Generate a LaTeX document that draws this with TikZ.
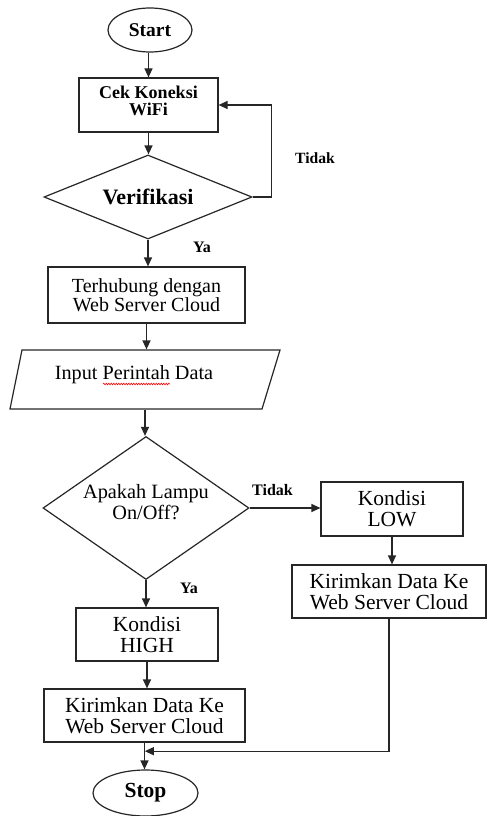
\documentclass[tikz,border=0pt]{standalone}
\usepackage{fontspec}
\setmainfont{Liberation Serif}
\newfontfamily\tnr{Liberation Serif}
\usetikzlibrary{shapes.geometric,arrows.meta,decorations.pathmorphing,calc}
\colorlet{ln}{black!85}
\begin{document}
\begin{tikzpicture}[x=1pt,y=-1pt,line width=1.2pt,
  box/.style={draw=ln, rectangle, fill=white, inner sep=0pt, align=center},
  term/.style={draw=ln, ellipse, fill=white, inner sep=0pt},
  dec/.style={draw=ln, diamond, fill=white, inner sep=0pt},
  txt/.style={align=center, inner sep=0pt},
  arr/.style={draw=ln, -{Triangle[length=9pt,width=8pt]}},
  fsz/.style 2 args={font=\tnr\fontsize{#1}{#2}\selectfont},
  fszb/.style 2 args={font=\tnr\fontsize{#1}{#2}\selectfont\bfseries},
  lbl/.style={inner sep=0pt}
]
\useasboundingbox (0,0) rectangle (488,816);

\node[term, minimum width=84, minimum height=44, fszb={19.5}{21}] (start) at (150,30) {Start};

\node[box, minimum width=139, minimum height=54] (cek) at (148.5,105) {};
\node[txt, fszb={18}{16.5}] (cekt) at (148.5,101) {Cek Koneksi\\WiFi};

\node[dec, minimum width=208, minimum height=84, aspect=2.48, fszb={22}{24}] (ver) at (148,197) {Verifikasi};

\node[box, minimum width=197, minimum height=56, fsz={20}{19}] (ter) at (146.5,295) {Terhubung dengan\\Web Server Cloud};

\node[inner sep=0pt, minimum width=270, minimum height=59] (inp) at (145,379.5) {};
\draw[ln] (22,350) -- (280,350) -- (262,409) -- (10,409) -- cycle;
\node[txt, fsz={20.2}{22}] (inpt) at (134,375) {Input Perintah Data};
\draw[red, line width=0.6pt, decorate, decoration={snake, amplitude=0.8pt, segment length=2.5pt}] (103,384) -- (170,384);

\node[dec, minimum width=206, minimum height=143, aspect=1.44] (ap) at (146,508) {};
\node[txt, fsz={20.3}{21.5}] (apt) at (146,502) {Apakah Lampu\\On/Off?};

\node[box, minimum width=142, minimum height=54, fsz={21.5}{21}] (low) at (392,509) {Kondisi\\LOW};
\node[box, minimum width=194, minimum height=53, fsz={21.5}{21}] (kr) at (389,591.5) {Kirimkan Data Ke\\Web Server Cloud};
\node[box, minimum width=142, minimum height=53, fsz={21.5}{21.5}] (high) at (147,634.5) {Kondisi\\HIGH};
\node[box, minimum width=201, minimum height=53, fsz={21.5}{21}] (kl) at (144.5,715.5) {Kirimkan Data Ke\\Web Server Cloud};
\node[term, minimum width=105, minimum height=46, fszb={21.5}{23}] (stop) at (145.5,793) {Stop};

\node[lbl, fszb={15.6}{17}] (t1) at (315,158) {Tidak};
\node[lbl, fszb={16}{18}] (y1) at (202,247) {Ya};
\node[lbl, fszb={16}{18}] (t2) at (272.5,490) {Tidak};
\node[lbl, fszb={16}{18}] (y2) at (189,588) {Ya};

\coordinate (jn) at ($(kl.south)!0.32!(stop.north)$);

\draw[arr] (start.south -| cek.north) -- (cek.north);
\draw[arr] (cek.south) -- (cek.south |- ver.north);
\draw[arr] (ver.east) -- ++(19,0) |- (cek.east);
\draw[arr] (ver.south) -- (ver.south |- ter.north);
\draw[arr] (ter.south) -- (ter.south |- inp.north);
\draw[arr] (inp.south) -- (inp.south |- ap.north);
\draw[arr] (ap.east) -- (ap.east -| low.west);
\draw[arr] (low.south) -- (low.south |- kr.north);
\draw[arr] (ap.south) -- (ap.south |- high.north);
\draw[arr] (high.south) -- (high.south |- kl.north);
\draw[arr] (kl.south) -- (kl.south |- stop.north);
\draw[arr] (kr.south) |- (jn);
\end{tikzpicture}
\end{document}
